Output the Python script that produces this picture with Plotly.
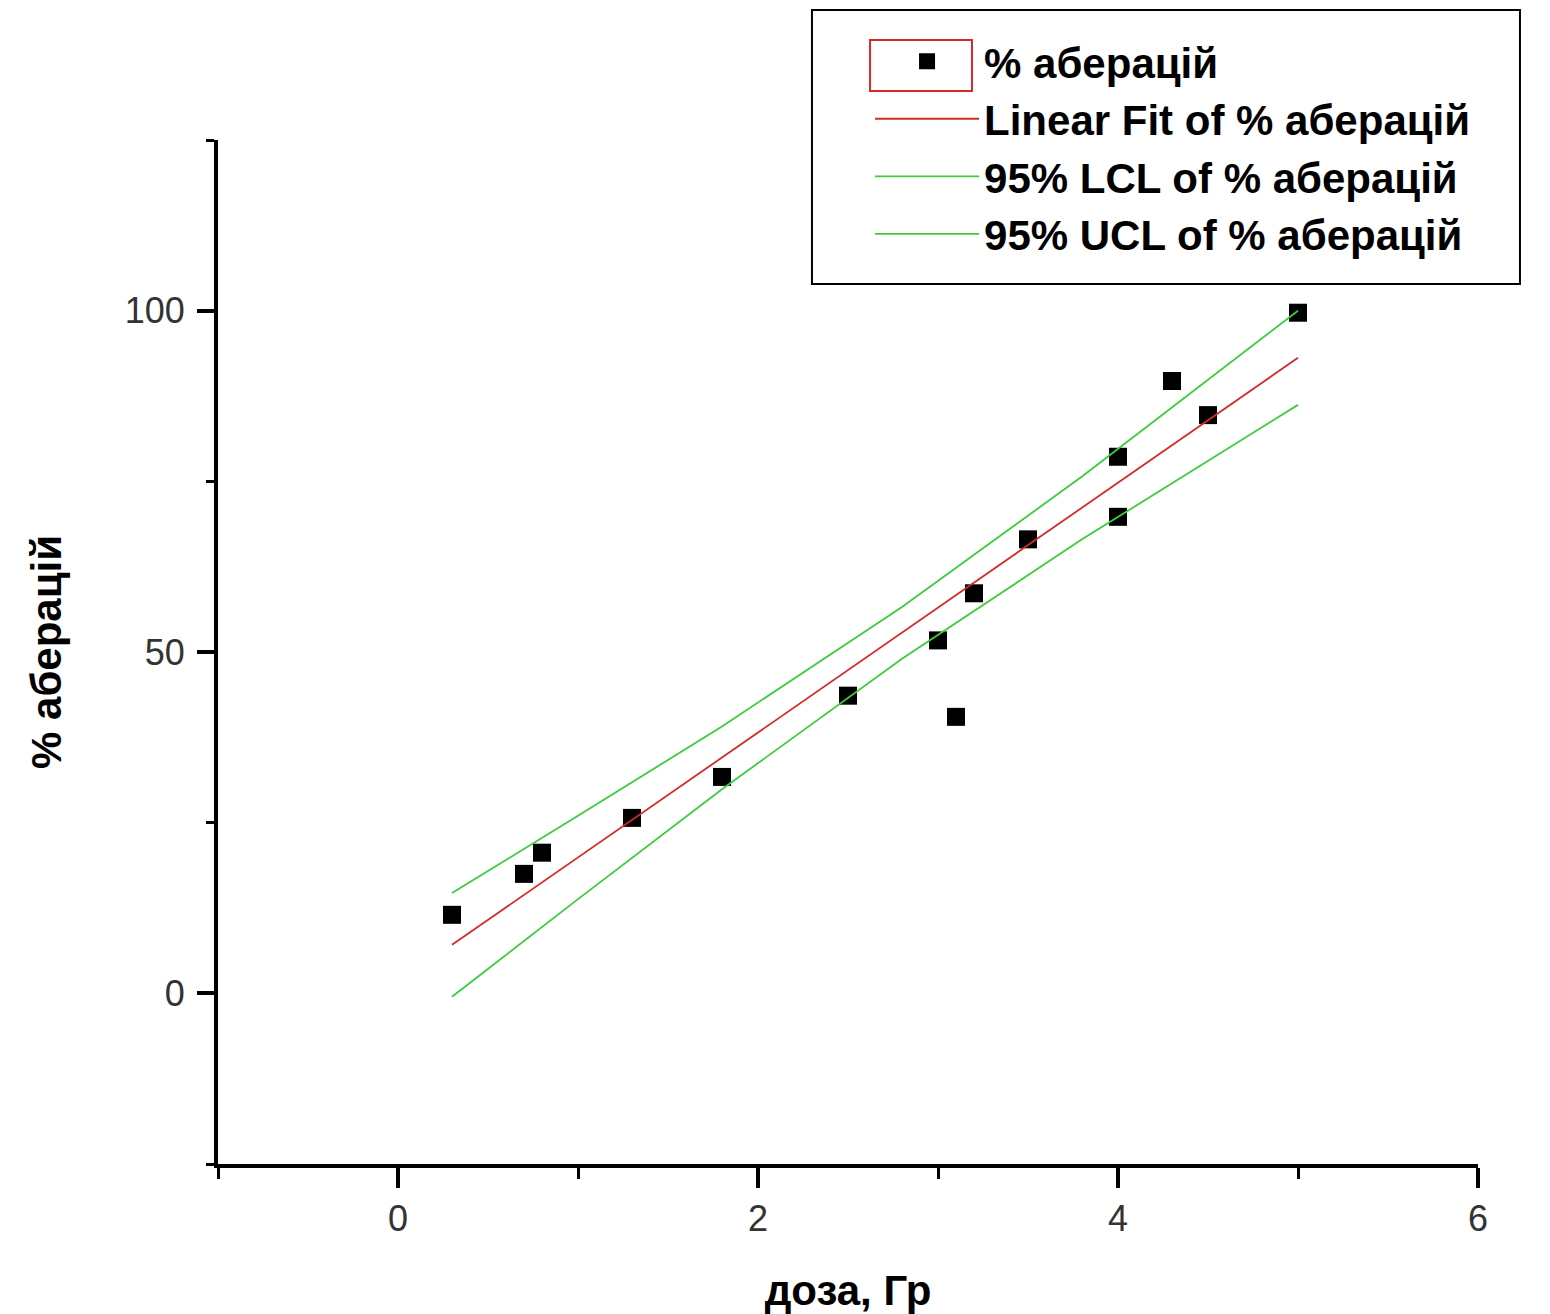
import plotly.graph_objects as go

# data points
dose = [0.3, 0.7, 0.8, 1.3, 1.8, 2.5, 3.0, 3.1, 3.2, 3.5, 4.0, 4.0, 4.3, 4.5, 5.0]
aberr = [11.5, 17.5, 20.6, 25.7, 31.7, 43.6, 51.7, 40.5, 58.6, 66.5, 78.6, 69.8, 89.7, 84.7, 99.7]

# linear fit
fit_x = [0.3, 5.0]
fit_y = [7.1, 93.1]

# 95% confidence limits
cl_x = [0.3, 1.0, 1.8, 2.8, 3.8, 5.0]
lcl_y = [-0.5, 13.8, 29.9, 49.0, 66.5, 86.2]
ucl_y = [14.7, 26.0, 39.1, 56.6, 75.7, 100.0]

names = ["% аберацій", "Linear Fit of % аберацій",
         "95% LCL of % аберацій", "95% UCL of % аберацій"]

RED = "#d42a2a"
GREEN = "#3ccc3c"

fig = go.Figure()
fig.add_trace(go.Scatter(x=dose, y=aberr, mode="markers", name=names[0],
                         marker=dict(symbol="square", size=18, color="black")))
fig.add_trace(go.Scatter(x=fit_x, y=fit_y, mode="lines", name=names[1],
                         line=dict(color=RED, width=1.8)))
fig.add_trace(go.Scatter(x=cl_x, y=lcl_y, mode="lines", name=names[2],
                         line=dict(color=GREEN, width=1.8)))
fig.add_trace(go.Scatter(x=cl_x, y=ucl_y, mode="lines", name=names[3],
                         line=dict(color=GREEN, width=1.8)))

tickfont = dict(family="Liberation Sans", size=36, color="#333333")
titlefont = dict(family="Liberation Sans", size=42, color="black", weight="bold")

fig.update_layout(
    width=1550, height=1314,
    margin=dict(l=210, r=80, t=132, b=158, autoexpand=False),
    paper_bgcolor="white", plot_bgcolor="white",
    showlegend=True,
    legend=dict(
        x=0.5175, y=1.110, xanchor="left", yanchor="top",
        borderwidth=0, bgcolor="rgba(0,0,0,0)",
        font=dict(family="Liberation Sans", size=42, color="black", weight="bold"),
        itemwidth=104, tracegroupgap=0,
        traceorder="normal",
    ),
    shapes=[
        dict(type="rect", xref="paper", yref="paper",
             x0=0.4714, x1=1.0333, y0=0.8594, y1=1.127,
             line=dict(color="black", width=2), fillcolor="rgba(0,0,0,0)", layer="below"),
        dict(type="rect", xref="paper", yref="paper",
             x0=0.5175, x1=0.5984, y0=1.0479, y1=1.0977,
             line=dict(color=RED, width=2), fillcolor="rgba(0,0,0,0)", layer="above"),
    ],
    xaxis=dict(
        range=[-1, 6], tickmode="linear", tick0=0, dtick=2, automargin=False,
        showgrid=False, zeroline=False, showline=True, linecolor="black", linewidth=4,
        ticks="outside", ticklen=20, tickwidth=4, tickcolor="black",
        tickfont=tickfont, ticklabelstandoff=0,
        minor=dict(ticks="outside", ticklen=11, tickwidth=3, dtick=1, tick0=0,
                   tickcolor="black", showgrid=False),
        title=dict(text="доза, Гр", font=titlefont, standoff=38),
    ),
    yaxis=dict(
        range=[-25, 125], tickmode="linear", tick0=0, dtick=50, automargin=False,
        showgrid=False, zeroline=False, showline=True, linecolor="black", linewidth=4,
        ticks="outside", ticklen=17, tickwidth=4, tickcolor="black",
        tickfont=tickfont, ticklabelstandoff=5,
        minor=dict(ticks="outside", ticklen=8, tickwidth=3, dtick=25, tick0=0,
                   tickcolor="black", showgrid=False),
        title=dict(text="% аберацій", font=titlefont, standoff=51),
    ),
)

fig.write_html("out.html")
